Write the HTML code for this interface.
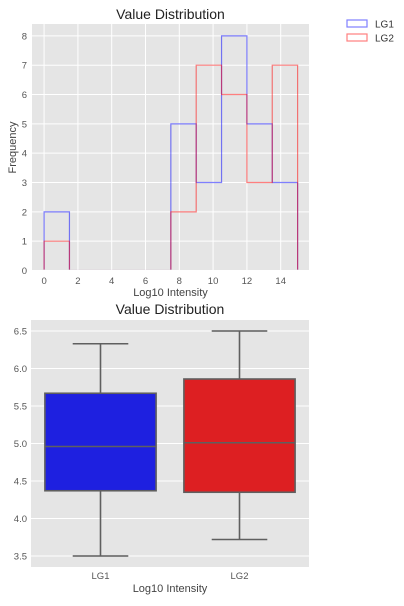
<!DOCTYPE html>
<html><head><meta charset="utf-8"><style>
body{margin:0;background:#fff;width:404px;height:601px;overflow:hidden;font-family:"Liberation Sans",sans-serif}
</style></head><body>
<svg id="s" width="404" height="601" xmlns="http://www.w3.org/2000/svg" font-family="Liberation Sans, sans-serif">
<defs><clipPath id="hc"><rect x="32" y="24" width="277" height="245.6"/></clipPath></defs>
<g id="top"></g>
<g id="bot"></g>
</svg>
<script>
const binEdges=[0,1.5,3,4.5,6,7.5,9,10.5,12,13.5,15];
const lg1Counts=[2,0,0,0,0,5,3,8,5,3];
const lg2Counts=[1,0,0,0,0,2,7,6,3,7];
const histXTicks=[0,2,4,6,8,10,12,14];
const histYTicks=[0,1,2,3,4,5,6,7,8];
const boxCats=["LG1","LG2"];
const boxWhiskLow=[3.5,3.72];
const boxQ1=[4.37,4.35];
const boxMedian=[4.96,5.01];
const boxQ3=[5.67,5.86];
const boxWhiskHigh=[6.33,6.5];
const boxColors=["#1e20e0","#dd1f22"];
const boxYTicks=[3.5,4.0,4.5,5.0,5.5,6.0,6.5];

const NS="http://www.w3.org/2000/svg";
function mk(p,t,a,txt){const e=document.createElementNS(NS,t);for(const k in a)e.setAttribute(k,a[k]);if(txt!==undefined)e.textContent=txt;p.appendChild(e);return e;}

// Histogram
const T=document.getElementById('top');
const hx0=32,hx1=309,hy0=24,hy1=271;
const hx=v=>44.1+v*16.9, hy=v=>270.5-v*29.33;
let r=mk(T,'rect',{x:hx0,y:hy0,width:hx1-hx0,height:hy1-hy0,fill:'#e5e5e5'});

histXTicks.forEach(t=>{mk(T,'line',{x1:hx(t),x2:hx(t),y1:hy0,y2:hy1,stroke:'#fff','stroke-width':1});
 const l=mk(T,'text',{x:hx(t),y:hy1+13,'font-size':9.5,fill:'#555','text-anchor':'middle'},t);
 });
histYTicks.forEach(t=>{mk(T,'line',{x1:hx0,x2:hx1,y1:hy(t),y2:hy(t),stroke:'#fff','stroke-width':1});
 const l=mk(T,'text',{x:hx0-5,y:hy(t)+3.5,'font-size':9.5,fill:'#555','text-anchor':'end'},t);
 });
function step(counts,col,name){let d='M'+hx(binEdges[0])+','+hy(0);
 counts.forEach((c,i)=>{d+=' L'+hx(binEdges[i])+','+hy(c)+' L'+hx(binEdges[i+1])+','+hy(c);});
 d+=' L'+hx(binEdges[binEdges.length-1])+','+hy(0);
 const p=mk(T,'path',{d:d,fill:'none',stroke:col,'stroke-opacity':0.5,'stroke-width':1.2,'clip-path':'url(#hc)'});
 }
step(lg1Counts,'#0000ff','lg1-histogram');
step(lg2Counts,'#ff0000','lg2-histogram');
let t1=mk(T,'text',{x:(hx0+hx1)/2,y:19,'font-size':14,fill:'#222','text-anchor':'middle'},'Value Distribution');

let xl=mk(T,'text',{x:(hx0+hx1)/2,y:296,'font-size':11,fill:'#444','text-anchor':'middle'},'Log10 Intensity');

let yl=mk(T,'text',{x:16,y:(hy0+hy1)/2,'font-size':11,fill:'#444','text-anchor':'middle',transform:'rotate(-90 16 '+(hy0+hy1)/2+')'},'Frequency');

[['LG1','#0000ff',24],['LG2','#ff0000',38]].forEach(([n,c,y])=>{
 const g=mk(T,'g',{});
 mk(g,'rect',{x:347,y:y-4,width:20,height:7,fill:'none',stroke:c,'stroke-opacity':0.5,'stroke-width':1.2});
 mk(g,'text',{x:375,y:y+3.5,'font-size':10,fill:'#333'},n);});

// Boxplot
const B=document.getElementById('bot');
const bx0=31,bx1=309,by0=320,by1=567;
const by=v=>556-(v-3.5)*75;
const bandW=(bx1-bx0)/boxCats.length;
const bc=i=>bx0+bandW*(i+0.5);
r=mk(B,'rect',{x:bx0,y:by0,width:bx1-bx0,height:by1-by0,fill:'#e5e5e5'});

boxYTicks.forEach(t=>{mk(B,'line',{x1:bx0,x2:bx1,y1:by(t),y2:by(t),stroke:'#fff','stroke-width':1});
 const l=mk(B,'text',{x:bx0-4,y:by(t)+3.5,'font-size':9.5,fill:'#555','text-anchor':'end'},t.toFixed(1));
 });
boxCats.forEach((c,i)=>{const cx=bc(i),w=bandW*0.8,cw=w/2;
 const g=mk(B,'g',{});
 const st={stroke:'#5f5f5f','stroke-width':1.6};
 mk(g,'line',Object.assign({x1:cx,x2:cx,y1:by(boxWhiskLow[i]),y2:by(boxQ1[i])},st));
 mk(g,'line',Object.assign({x1:cx,x2:cx,y1:by(boxQ3[i]),y2:by(boxWhiskHigh[i])},st));
 mk(g,'line',Object.assign({x1:cx-cw/2,x2:cx+cw/2,y1:by(boxWhiskLow[i]),y2:by(boxWhiskLow[i])},st));
 mk(g,'line',Object.assign({x1:cx-cw/2,x2:cx+cw/2,y1:by(boxWhiskHigh[i]),y2:by(boxWhiskHigh[i])},st));
 mk(g,'rect',Object.assign({x:cx-w/2,y:by(boxQ3[i]),width:w,height:by(boxQ1[i])-by(boxQ3[i]),fill:boxColors[i]},st));
 mk(g,'line',Object.assign({x1:cx-w/2,x2:cx+w/2,y1:by(boxMedian[i]),y2:by(boxMedian[i])},st));
 const l=mk(B,'text',{x:cx,y:by1+12,'font-size':9.5,fill:'#555','text-anchor':'middle'},c);
 });
let t2=mk(B,'text',{x:(bx0+bx1)/2,y:314,'font-size':14,fill:'#222','text-anchor':'middle'},'Value Distribution');

let xl2=mk(B,'text',{x:(bx0+bx1)/2,y:592,'font-size':11,fill:'#444','text-anchor':'middle'},'Log10 Intensity');

</script>
</body></html>
